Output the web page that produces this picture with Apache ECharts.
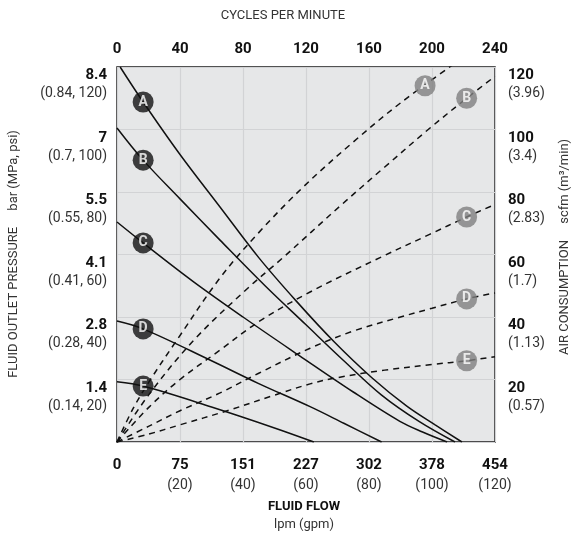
<!DOCTYPE html>
<html>
<head>
<meta charset="utf-8">
<script src="https://cdn.jsdelivr.net/npm/echarts@6/dist/echarts.min.js"></script>
<style>
html,body{margin:0;padding:0;background:#fff;}
#chart{width:575px;height:537px;}
</style>
</head>
<body>
<div id="chart"></div>
<script>
// ---- tick labels ----
const lpmLabels = ['0','75','151','227','302','378','454'];
const gpmLabels = ['','(20)','(40)','(60)','(80)','(100)','(120)'];
const cycleLabels = ['0','40','80','120','160','200','240'];
const barLabels = ['','1.4','2.8','4.1','5.5','7','8.4'];
const mpaPsiLabels = ['','(0.14, 20)','(0.28, 40)','(0.41, 60)','(0.55, 80)','(0.7, 100)','(0.84, 120)'];
const scfmLabels = ['','20','40','60','80','100','120'];
const m3Labels = ['','(0.57)','(1.13)','(1.7)','(2.83)','(3.4)','(3.96)'];
const curveNames = ['A','B','C','D','E'];

// ---- fluid outlet pressure (x: gpm, y: psi) ----
const pressureA = [[1,120],[8.3,108.8],[20,92],[32.7,75.2],[45,59],[57,45],[69,32],[81,20.5],[92,11.5],[101,5.5],[109.5,0]];
const pressureB = [[0,100.5],[8.3,90.2],[20,77.8],[32.7,64.6],[47,50],[60,37.5],[72,26],[84,15],[96,6.5],[107.3,0]];
const pressureC = [[0,70.4],[8.3,63.7],[24,51.5],[40,40],[58.1,27.5],[75,16],[89.8,6.6],[97,3.2],[104.8,0]];
const pressureD = [[0,38.7],[8.3,36.2],[30,26],[45,18.7],[61.3,11.3],[72,6],[84,0]];
const pressureE = [[0,19.3],[8.3,17.9],[30,11.2],[50,4.5],[62.5,0]];

// ---- air consumption (x: gpm, y: scfm) ----
const airA = [[0,0],[5,10.5],[10,19],[19,32.6],[32.7,52.5],[45,67],[59,81.5],[75,96],[90,108.5],[107,121]];
const airB = [[0,0],[10,15],[24.4,32.6],[41.6,49.3],[52.7,59],[70.8,75.5],[85,88],[98.8,100],[111,110],[120,117]];
const airC = [[0,0],[10,11],[20,20],[32.7,29.4],[45,38.5],[61.3,48],[83.5,59],[99.4,66.5],[111,72],[120,76]];
const airD = [[0,0],[10,5],[20,10],[32.7,15.7],[45,22],[61.3,30],[75,35.5],[90,40],[100,42.8],[111,45.8],[120,47.7]];
const airE = [[0,0],[10,2.5],[20,5.5],[35,10],[50,15],[61.3,18.6],[70,20.6],[85,23],[100,24.8],[111,26],[120,27.3]];

// ---- curve label positions ----
const pressureMarkers = [[8.3,108.8],[8.3,90.2],[8.3,63.7],[8.3,36.2],[8.3,17.9]];
const airMarkers = [[97.8,114],[111,110],[111,72],[111,45.8],[111,26]];

const FONT = 'Roboto';
const pressureSets = [pressureA, pressureB, pressureC, pressureD, pressureE];
const airSets = [airA, airB, airC, airD, airE];

const chart = echarts.init(document.getElementById('chart'), null, {renderer:'canvas'});

const rich = {
  b: {fontFamily: FONT, fontSize: 15, fontWeight: 'bold', color: '#111', lineHeight: 17},
  n: {fontFamily: FONT, fontSize: 14, color: '#333', lineHeight: 19}
};
const richX = {
  b: {fontFamily: FONT, fontSize: 15, fontWeight: 'bold', color: '#111', lineHeight: 17},
  n: {fontFamily: FONT, fontSize: 14, color: '#333', lineHeight: 22}
};
function idx(v){ return Math.round(v / 20); }

const series = [];
pressureSets.forEach((d, i) => {
  series.push({
    type: 'line', name: 'P' + curveNames[i], xAxisIndex: 0, yAxisIndex: 0,
    data: d, smooth: 0.35, symbol: 'none', z: 3,
    lineStyle: {color: '#111', width: 1.5}
  });
});
airSets.forEach((d, i) => {
  series.push({
    type: 'line', name: 'Q' + curveNames[i], xAxisIndex: 0, yAxisIndex: 1,
    data: d, smooth: 0.35, symbol: 'none', z: 3,
    lineStyle: {color: '#111', width: 1.5, type: [6, 5]}
  });
});
series.push({
  type: 'scatter', xAxisIndex: 0, yAxisIndex: 0, z: 5,
  symbolSize: 21, itemStyle: {color: '#111'},
  data: pressureMarkers.map((p, i) => ({value: p, name: curveNames[i]})),
  label: {show: true, position: 'inside', formatter: p => p.name, color: '#fff',
          fontFamily: FONT, fontWeight: 'bold', fontSize: 14}
});
series.push({
  type: 'scatter', xAxisIndex: 0, yAxisIndex: 1, z: 5,
  symbolSize: 21, itemStyle: {color: '#808080'},
  data: airMarkers.map((p, i) => ({value: p, name: curveNames[i]})),
  label: {show: true, position: 'inside', formatter: p => p.name, color: '#fff',
          fontFamily: FONT, fontWeight: 'bold', fontSize: 14}
});

function txt(x, y, text, opts) {
  return {type: 'text', x: x, y: y, style: Object.assign({text: text, align: 'center',
    verticalAlign: 'middle', fontFamily: FONT, fontSize: 13, fill: '#333'}, opts || {})};
}

const option = {
  animation: false,
  backgroundColor: '#fff',
  grid: {left: 117, top: 67, right: 80, bottom: 95, show: true,
         backgroundColor: '#e6e7e8', borderColor: '#1a1a1a', borderWidth: 1.5, z: 0},
  xAxis: [
    {type: 'value', position: 'bottom', min: 0, max: 120, interval: 20,
     axisLine: {show: false}, axisTick: {show: false},
     splitLine: {show: true, lineStyle: {color: '#d2d3d5', width: 1.2}},
     axisLabel: {margin: 15, verticalAlign: 'top', rich: richX,
       formatter: v => { const k = idx(v); return gpmLabels[k] ? '{b|' + lpmLabels[k] + '}\n{n|' + gpmLabels[k] + '}' : '{b|' + lpmLabels[k] + '}'; }}},
    {type: 'value', position: 'top', min: 0, max: 120, interval: 20,
     axisLine: {show: false}, axisTick: {show: false}, splitLine: {show: false},
     axisLabel: {margin: 10, fontFamily: FONT, fontSize: 15, fontWeight: 'bold', color: '#111',
       formatter: v => cycleLabels[idx(v)]}}
  ],
  yAxis: [
    {type: 'value', position: 'left', min: 0, max: 120, interval: 20,
     axisLine: {show: false}, axisTick: {show: false},
     splitLine: {show: true, lineStyle: {color: '#d2d3d5', width: 1.2}},
     axisLabel: {margin: 10, align: 'right', verticalAlign: 'top', rich: {
         b: Object.assign({align: 'right'}, rich.b), n: Object.assign({align: 'right'}, rich.n)},
       formatter: v => { const k = idx(v); return barLabels[k] ? '{b|' + barLabels[k] + '}\n{n|' + mpaPsiLabels[k] + '}' : ''; }}},
    {type: 'value', position: 'right', min: 0, max: 120, interval: 20,
     axisLine: {show: false}, axisTick: {show: false}, splitLine: {show: false},
     axisLabel: {margin: 13, align: 'left', verticalAlign: 'top', rich: {
         b: Object.assign({align: 'left'}, rich.b), n: Object.assign({align: 'left'}, rich.n)},
       formatter: v => { const k = idx(v); return scfmLabels[k] ? '{b|' + scfmLabels[k] + '}\n{n|' + m3Labels[k] + '}' : ''; }}}
  ],
  graphic: [
    txt(283, 16, 'CYCLES PER MINUTE'),
    txt(304, 507, 'FLUID FLOW', {fontWeight: 'bold', fill: '#111'}),
    txt(304, 525, 'lpm (gpm)'),
    Object.assign(txt(14, 254, 'FLUID OUTLET PRESSURE     bar (MPa, psi)'), {rotation: Math.PI / 2}),
    Object.assign(txt(565, 247, 'AIR CONSUMPTION     scfm (m³/min)'), {rotation: Math.PI / 2})
  ],
  series: series
};
chart.setOption(option);
</script>
</body>
</html>
